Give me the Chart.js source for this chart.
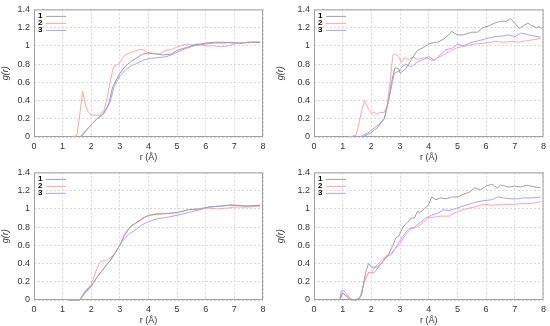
<!DOCTYPE html>
<html>
<head>
<meta charset="utf-8">
<script src="https://cdn.jsdelivr.net/npm/chart.js@4/dist/chart.umd.min.js"></script>
<style>
  body { margin: 0; background: #fff; }
  .panel { position: absolute; width: 275px; height: 163px; }
</style>
</head>
<body>
<div class="panel" style="left:0;top:0"><canvas id="c1"></canvas></div>
<div class="panel" style="left:275px;top:0"><canvas id="c2"></canvas></div>
<div class="panel" style="left:0;top:163px"><canvas id="c3"></canvas></div>
<div class="panel" style="left:275px;top:163px"><canvas id="c4"></canvas></div>
<script>
// series labels and colours
var seriesNames = ["1", "2", "3"];
var seriesColors = ["#a0a0a0", "#ffa6a6", "#a6a6ff"];

// axis ticks
var xTicks = [0, 1, 2, 3, 4, 5, 6, 7, 8];
var yTicks = [0, 0.2, 0.4, 0.6, 0.8, 1, 1.2, 1.4];

// top-left panel
var p1r1 = [1.6,1.9,2.2,2.4,2.6,2.75,3.0,3.2,3.4,3.6,3.8,4.0,4.3,4.5,4.8,5.0,5.3,5.6,6.0,6.3,6.6,7.0,7.3,7.6,7.9];
var p1g1 = [0,0.1,0.2,0.25,0.35,0.55,0.7,0.78,0.83,0.87,0.91,0.92,0.91,0.9,0.91,0.95,0.98,1.01,1.03,1.04,1.04,1.03,1.03,1.04,1.04];
var p1r2 = [1.35,1.5,1.6,1.7,1.8,1.9,2.0,2.3,2.45,2.57,2.67,2.78,2.95,3.18,3.4,3.7,3.8,3.95,4.3,4.4,4.58,4.8,4.87,5.1,5.33,5.5,5.7,6.0,6.3,6.5,6.8,7.0,7.2,7.5,7.9];
var p1g2 = [0,0.02,0.25,0.5,0.35,0.27,0.24,0.24,0.3,0.45,0.62,0.77,0.8,0.9,0.93,0.96,0.96,0.93,0.91,0.91,0.95,0.96,0.97,1.0,1.02,1.01,1.02,1.0,1.0,0.99,1.0,1.02,1.03,1.04,1.04];
var p1r3 = [1.65,1.9,2.2,2.45,2.65,2.8,3.0,3.2,3.4,3.6,3.8,4.0,4.3,4.6,4.8,5.0,5.3,5.6,6.0,6.3,6.6,6.9,7.1,7.5,7.9];
var p1g3 = [0,0.1,0.2,0.26,0.38,0.55,0.67,0.74,0.78,0.81,0.84,0.86,0.87,0.88,0.9,0.93,0.97,1.0,1.02,1.03,1.03,1.04,1.03,1.04,1.04];

// top-right panel
var p2r1 = [1.7,2.0,2.2,2.45,2.6,2.7,2.82,2.95,3.0,3.2,3.4,3.6,3.8,4.0,4.2,4.3,4.5,4.7,4.8,5.0,5.2,5.5,5.7,5.9,6.1,6.3,6.5,6.7,6.85,7.0,7.15,7.3,7.45,7.6,7.75,7.85,7.95];
var p2g1 = [0,0.05,0.1,0.2,0.4,0.6,0.76,0.75,0.7,0.75,0.85,0.95,0.98,1.02,1.04,1.04,1.07,1.12,1.16,1.12,1.12,1.15,1.15,1.2,1.22,1.25,1.27,1.27,1.3,1.25,1.19,1.22,1.25,1.22,1.2,1.21,1.19];
var p2r2 = [1.2,1.47,1.57,1.67,1.76,1.91,2.0,2.1,2.2,2.3,2.45,2.55,2.65,2.75,2.85,2.95,3.05,3.15,3.3,3.45,3.6,3.8,4.0,4.1,4.2,4.5,4.8,5.0,5.3,5.6,6.0,6.3,6.6,6.9,7.1,7.5,7.9];
var p2g2 = [0,0.02,0.15,0.3,0.4,0.3,0.26,0.27,0.25,0.27,0.27,0.35,0.6,0.9,0.91,0.88,0.82,0.87,0.85,0.88,0.85,0.87,0.86,0.84,0.85,0.9,0.95,0.98,1.0,1.02,1.03,1.05,1.04,1.05,1.04,1.06,1.08];
var p2r3 = [1.6,1.9,2.1,2.3,2.45,2.6,2.8,2.95,3.1,3.2,3.4,3.6,3.8,4.0,4.2,4.4,4.6,4.8,5.0,5.2,5.5,5.8,6.0,6.3,6.6,6.8,7.0,7.2,7.5,7.8,7.9];
var p2g3 = [0,0.05,0.1,0.15,0.2,0.4,0.7,0.72,0.78,0.8,0.77,0.82,0.85,0.88,0.84,0.9,0.96,0.97,1.02,1.0,1.04,1.06,1.08,1.1,1.11,1.12,1.1,1.14,1.12,1.1,1.1];

// bottom-left panel
var p3r1 = [1.2,1.6,1.8,2.0,2.2,2.45,2.7,2.8,3.0,3.15,3.35,3.5,3.8,4.0,4.3,4.7,5.0,5.4,5.8,6.1,6.5,6.8,7.0,7.4,7.9];
var p3g1 = [0,0,0.1,0.15,0.25,0.35,0.45,0.5,0.6,0.7,0.8,0.83,0.9,0.93,0.94,0.95,0.96,0.99,1.0,1.02,1.03,1.04,1.04,1.03,1.04];
var p3r2 = [1.2,1.6,1.8,2.0,2.2,2.35,2.5,2.6,2.8,3.0,3.15,3.4,3.6,3.95,4.3,4.7,5.0,5.4,5.8,6.0,6.4,6.8,7.0,7.5,7.9];
var p3g2 = [0,0,0.1,0.17,0.35,0.43,0.43,0.45,0.5,0.6,0.72,0.82,0.85,0.92,0.95,0.95,0.96,0.99,1.0,1.01,1.0,1.01,1.02,1.02,1.03];
var p3r3 = [1.2,1.6,1.8,2.0,2.2,2.45,2.7,2.9,3.05,3.3,3.5,3.75,4.0,4.3,4.7,5.0,5.4,5.8,6.1,6.5,6.8,7.0,7.5,7.9];
var p3g3 = [0,0,0.08,0.15,0.25,0.35,0.45,0.55,0.63,0.72,0.76,0.82,0.86,0.89,0.91,0.93,0.96,0.99,1.02,1.03,1.04,1.04,1.03,1.04];

// bottom-right panel
var p4r1 = [0.9,1.0,1.15,1.3,1.5,1.65,1.8,1.9,2.0,2.2,2.4,2.6,2.75,2.85,2.95,3.1,3.25,3.4,3.5,3.6,3.7,3.85,4.0,4.1,4.25,4.4,4.6,4.8,5.0,5.2,5.4,5.6,5.8,6.0,6.2,6.4,6.5,6.8,7.0,7.2,7.4,7.7,7.9];
var p4g1 = [0,0.08,0.03,0,0,0.05,0.3,0.4,0.36,0.36,0.42,0.5,0.6,0.68,0.7,0.8,0.85,0.9,0.9,0.97,0.96,1.0,1.05,1.13,1.1,1.12,1.11,1.13,1.13,1.16,1.18,1.23,1.21,1.25,1.27,1.23,1.26,1.24,1.25,1.24,1.26,1.24,1.23];
var p4r2 = [0.9,1.0,1.15,1.35,1.5,1.65,1.75,1.9,2.0,2.1,2.3,2.5,2.7,2.8,3.0,3.2,3.4,3.6,3.8,4.0,4.2,4.4,4.7,5.0,5.3,5.6,5.9,6.2,6.5,7.0,7.3,7.6,7.9];
var p4g2 = [0,0.08,0.04,0,0,0.05,0.2,0.3,0.3,0.35,0.42,0.48,0.52,0.55,0.62,0.72,0.78,0.8,0.85,0.9,0.91,0.92,0.92,0.97,1.0,1.02,1.05,1.04,1.05,1.05,1.06,1.06,1.08];
var p4r3 = [0.9,0.95,1.05,1.2,1.35,1.6,1.75,1.9,2.0,2.1,2.3,2.5,2.7,2.9,3.1,3.3,3.5,3.7,3.9,4.1,4.3,4.5,4.7,4.9,5.1,5.4,5.6,5.9,6.2,6.4,6.6,6.9,7.1,7.3,7.6,7.9];
var p4g3 = [0,0.1,0.1,0.04,0,0.02,0.2,0.3,0.3,0.3,0.38,0.47,0.5,0.6,0.7,0.78,0.8,0.85,0.9,0.93,0.95,0.99,0.98,1.0,1.02,1.05,1.07,1.09,1.1,1.13,1.12,1.11,1.11,1.12,1.12,1.13];

function pts(rs, gs) {
  return rs.map(function (r, i) { return { x: r, y: gs[i] }; });
}

// frame under the curves, legend on top of them
var framePlugin = {
  id: 'frameLegend',
  beforeDatasetsDraw: function (chart) {
    var a = chart.chartArea, ctx = chart.ctx;
    ctx.save();
    ctx.strokeStyle = '#a0a0a0';
    ctx.lineWidth = 1;
    ctx.strokeRect(a.left + 0.5, a.top + 0.5, a.right - a.left - 1, a.bottom - a.top - 1);
    ctx.restore();
  },
  afterDatasetsDraw: function (chart) {
    var a = chart.chartArea, ctx = chart.ctx;
    ctx.save();
    ctx.font = 'bold 8px "Liberation Sans", Arial, sans-serif';
    ctx.textBaseline = 'middle';
    ctx.lineWidth = 1;
    for (var i = 0; i < seriesNames.length; i++) {
      var y = a.top + 6.5 + i * 7;
      ctx.fillStyle = '#000';
      ctx.fillText(seriesNames[i], a.left + 4, y);
      ctx.strokeStyle = seriesColors[i];
      ctx.beginPath();
      ctx.moveTo(a.left + 12, y + 0.5);
      ctx.lineTo(a.left + 32, y + 0.5);
      ctx.stroke();
    }
    ctx.restore();
  }
};

function makePanel(id, series, leftW, rightPad) {
  var datasets = series.map(function (s, i) {
    return {
      label: seriesNames[i],
      data: pts(s[0], s[1]),
      borderColor: seriesColors[i],
      borderWidth: 1,
      pointRadius: 0,
      tension: 0,
      fill: false,
      clip: 2
    };
  });
  var tickFont = { family: '"Liberation Sans", Arial, sans-serif', size: 9 };
  return new Chart(document.getElementById(id), {
    type: 'line',
    data: { datasets: datasets },
    options: {
      responsive: true,
      maintainAspectRatio: false,
      animation: false,
      layout: { padding: { top: 6, right: rightPad, left: 0, bottom: 0 } },
      plugins: { legend: { display: false }, tooltip: { enabled: false } },
      scales: {
        x: {
          type: 'linear', min: 0, max: 8,
          afterBuildTicks: function (s) { s.ticks = xTicks.map(function (v) { return { value: v }; }); },
          afterFit: function (s) { s.height = 26; },
          grid: { color: '#d8d8d8', drawTicks: false },
          border: { display: false, dash: [2, 2] },
          ticks: { font: tickFont, color: '#333', padding: 4, callback: function (v) { return String(v); } },
          title: { display: true, text: 'r (Å)', font: tickFont, color: '#333', padding: { top: 0, bottom: 0 } }
        },
        y: {
          min: 0, max: 1.4,
          afterBuildTicks: function (s) { s.ticks = yTicks.map(function (v) { return { value: v }; }); },
          afterFit: function (s) { s.width = leftW; },
          grid: { color: '#d8d8d8', drawTicks: false },
          border: { display: false, dash: [2, 2] },
          ticks: { font: tickFont, color: '#333', padding: 4, callback: function (v) { return String(v); } },
          title: { display: true, text: 'g(r)', font: { family: tickFont.family, size: 9, style: 'italic' }, color: '#333', padding: 0 }
        }
      }
    },
    plugins: [framePlugin]
  });
}

makePanel('c1', [[p1r1, p1g1], [p1r2, p1g2], [p1r3, p1g3]], 34, 12);
makePanel('c2', [[p2r1, p2g1], [p2r2, p2g2], [p2r3, p2g3]], 39, 6);
makePanel('c3', [[p3r1, p3g1], [p3r2, p3g2], [p3r3, p3g3]], 34, 12);
makePanel('c4', [[p4r1, p4g1], [p4r2, p4g2], [p4r3, p4g3]], 39, 6);
</script>
</body>
</html>
